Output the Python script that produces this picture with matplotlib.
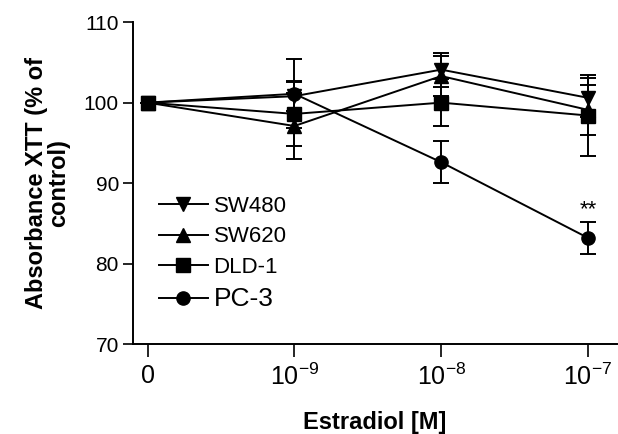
import matplotlib
matplotlib.use("Agg")
import matplotlib.pyplot as plt
from matplotlib.lines import Line2D

plt.rcParams['font.family'] = ['Liberation Sans', 'DejaVu Sans']
plt.rcParams['mathtext.fontset'] = 'custom'
plt.rcParams['mathtext.rm'] = 'Liberation Sans'
plt.rcParams['mathtext.it'] = 'Liberation Sans:italic'
plt.rcParams['mathtext.bf'] = 'Liberation Sans:bold'
plt.rcParams['mathtext.default'] = 'regular'

x_labels = ['0', r'$10^{-9}$', r'$10^{-8}$', r'$10^{-7}$']
x_pos = [0, 1, 2, 3]

series = ['SW480', 'SW620', 'DLD-1', 'PC-3']
markers = ['v', '^', 's', 'o']
sw480 = [100.0, 100.8, 104.1, 100.6]
sw480_err = [0.0, 1.9, 2.1, 2.4]
sw620 = [100.0, 97.1, 103.3, 99.1]
sw620_err = [0.0, 4.1, 2.5, 3.1]
dld1 = [100.0, 98.6, 100.0, 98.4]
dld1_err = [0.0, 4.0, 2.9, 5.0]
pc3 = [100.0, 101.1, 92.6, 83.2]
pc3_err = [0.0, 4.3, 2.6, 2.0]

values = [sw480, sw620, dld1, pc3]
errors = [sw480_err, sw620_err, dld1_err, pc3_err]

fig = plt.figure(figsize=(6.18, 4.34), dpi=100)
ax = fig.add_axes([0.215, 0.207, 0.784, 0.742])

for name, m, v, e in zip(series, markers, values, errors):
    ax.errorbar(x_pos, v, yerr=e, color='black', marker=m, markersize=9.5,
                linewidth=1.4, elinewidth=1.4, capsize=6, capthick=1.4, label=name)

ax.text(3, 86.7, '**', ha='center', va='center', fontsize=16)

ax.set_xlim(-0.1, 3.2)
ax.set_ylim(70, 110)
ax.set_xticks(x_pos)
ax.set_xticklabels(x_labels, fontsize=18)
ax.set_yticks([70, 80, 90, 100, 110])
ax.tick_params(axis='y', labelsize=15, length=7, width=1.2, direction='out', pad=3)
ax.tick_params(axis='x', length=9, width=1.2, direction='out', pad=5)
for s in ['top', 'right']:
    ax.spines[s].set_visible(False)
for s in ['left', 'bottom']:
    ax.spines[s].set_linewidth(1.4)

ax.set_xlabel('Estradiol [M]', fontsize=17, fontweight='bold', labelpad=15)
ax.set_ylabel('Absorbance XTT (% of\ncontrol)', fontsize=17, fontweight='bold', labelpad=10, linespacing=0.95)

handles = [Line2D([0], [0], color='black', marker=m, markersize=9.5, linewidth=1.4) for m in markers]
leg = ax.legend(handles, series, loc='upper left', bbox_to_anchor=(0.054, 0.46), frameon=False,
                fontsize=16, handlelength=2.2, handletextpad=0.25, labelspacing=0.42,
                borderpad=0, borderaxespad=0)
leg.get_texts()[3].set_fontsize(19)

fig.savefig('out.png', dpi=100)
